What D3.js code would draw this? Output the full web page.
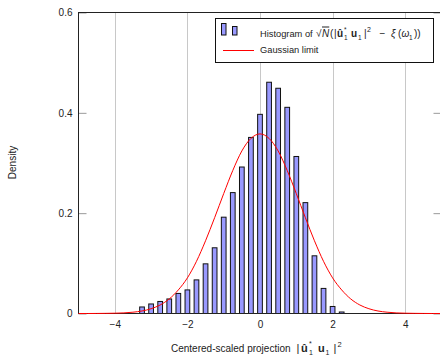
<!DOCTYPE html>
<html>
<head>
<meta charset="utf-8">
<script src="https://cdn.jsdelivr.net/npm/d3@7"></script>
<style>
  html, body { margin: 0; padding: 0; background: #fff; }
  svg { display: block; font-family: "Liberation Sans", Arial, Helvetica, sans-serif; }
</style>
</head>
<body>
<svg id="chart" width="440" height="361"></svg>
<script>
// Histogram bin centres and their densities
const binCenters = [-3.25, -3.0, -2.75, -2.5, -2.25, -2.0, -1.75, -1.5, -1.25, -1.0, -0.75, -0.5,
                    -0.25, 0.0, 0.25, 0.5, 0.75, 1.0, 1.25, 1.5, 1.75, 2.0, 2.25];
const binDensity = [0.013, 0.019, 0.024, 0.029, 0.040, 0.047, 0.067, 0.099, 0.131, 0.192, 0.241, 0.292,
                    0.351, 0.397, 0.461, 0.449, 0.411, 0.313, 0.221, 0.115, 0.050, 0.014, 0.003];

// Limiting Gaussian density, sampled along the x axis
const gaussX = [-5, -4.75, -4.5, -4.25, -4, -3.75, -3.5, -3.25, -3, -2.75, -2.5, -2.25, -2, -1.75, -1.5,
                -1.25, -1, -0.75, -0.5, -0.25, 0, 0.25, 0.5, 0.75, 1, 1.25, 1.5, 1.75, 2, 2.25, 2.5,
                2.75, 3, 3.25, 3.5, 3.75, 4, 4.25, 4.5, 4.75, 5];
const gaussY = [0, 0, 0.0001, 0.0003, 0.0006, 0.0012, 0.0026, 0.005, 0.0095, 0.017, 0.029, 0.047, 0.071,
                0.104, 0.145, 0.191, 0.239, 0.285, 0.324, 0.349, 0.358, 0.349, 0.324, 0.285, 0.239,
                0.191, 0.145, 0.104, 0.071, 0.047, 0.029, 0.017, 0.0095, 0.005, 0.0026, 0.0012, 0.0006,
                0.0003, 0.0001, 0, 0];

const xTicks = [-4, -2, 0, 2, 4];
const yTicks = [0, 0.2, 0.4, 0.6];

const svg = d3.select("#chart");
const plotL = 78.5, plotR = 441.5, plotT = 12.5, plotB = 313.5;

const x = d3.scaleLinear().domain([-5, 5]).range([plotL, plotR]);
const y = d3.scaleLinear().domain([0, 0.6]).range([plotB, plotT]);

// vertical grid
svg.append("g").selectAll("line").data(xTicks).join("line")
  .attr("x1", d => Math.round(x(d)) + 0.5).attr("x2", d => Math.round(x(d)) + 0.5)
  .attr("y1", plotT).attr("y2", plotB)
  .attr("stroke", "#c8c8c8").attr("stroke-width", 1);

// y tick marks (inside, both sides)
const yAxisL = d3.axisLeft(y).tickValues(yTicks).tickSize(-8).tickPadding(6)
  .tickFormat(d => d === 0 ? "0" : d3.format(".1f")(d));
const gy = svg.append("g").attr("transform", `translate(${plotL},0)`).call(yAxisL);
gy.select(".domain").remove();
gy.selectAll("line").attr("stroke", "#9a9a9a");
gy.selectAll("text").attr("font-size", 10).attr("fill", "#222")
  .attr("font-family", '"Liberation Sans", Arial, sans-serif');

const yAxisR = d3.axisRight(y).tickValues(yTicks).tickSize(-8).tickFormat("");
const gyr = svg.append("g").attr("transform", `translate(${plotR},0)`).call(yAxisR);
gyr.select(".domain").remove();
gyr.selectAll("line").attr("stroke", "#9a9a9a");

// x tick labels
const xAxis = d3.axisBottom(x).tickValues(xTicks).tickSize(0).tickPadding(7);
const gx = svg.append("g").attr("transform", `translate(0,${plotB})`).call(xAxis);
gx.select(".domain").remove();
gx.selectAll("text").attr("font-size", 10).attr("fill", "#222")
  .attr("font-family", '"Liberation Sans", Arial, sans-serif');

// histogram bars
const barW = x(0.13) - x(0);
svg.append("g").selectAll("rect").data(binCenters).join("rect")
  .attr("x", (d) => x(d) - barW / 2)
  .attr("y", (d, i) => y(binDensity[i]))
  .attr("width", barW)
  .attr("height", (d, i) => y(0) - y(binDensity[i]))
  .attr("fill", "#9999ff").attr("stroke", "#111").attr("stroke-width", 1);

// frame
svg.append("rect").attr("x", plotL).attr("y", plotT)
  .attr("width", plotR - plotL).attr("height", plotB - plotT)
  .attr("fill", "none").attr("stroke", "#222").attr("stroke-width", 1);

// Gaussian limit curve
const line = d3.line().x(d => x(d[0])).y(d => y(d[1])).curve(d3.curveMonotoneX);
svg.append("path").datum(gaussX.map((v, i) => [v, gaussY[i]]))
  .attr("d", line).attr("fill", "none").attr("stroke", "#ff0000").attr("stroke-width", 1);

// typeset a formula: each glyph group gets an absolute x offset and a baseline shift
function formula(sel, x0, y0, segs, base) {
  segs.forEach(s => {
    const ts = sel.append("tspan").text(s.t)
      .attr("x", x0 + s.x).attr("y", y0 + (s.dy || 0))
      .attr("font-size", s.s || base);
    if (s.i) ts.attr("font-style", "italic");
    if (s.b) ts.attr("font-weight", "bold");
    if (s.o) ts.attr("text-decoration", "overline");
  });
}

// axis titles
const xt = svg.append("text").attr("font-size", 10).attr("fill", "#222");
formula(xt, 171, 352, [
  { t: "Centered-scaled projection", x: 0 },
  { t: "|", x: 125.5, s: 11 },
  { t: "û", x: 130, b: true, s: 11 },
  { t: "1", x: 138, s: 7, dy: 3 },
  { t: "*", x: 138, s: 7, dy: -6 },
  { t: "u", x: 147, b: true, s: 11 },
  { t: "1", x: 154.5, s: 7, dy: 3 },
  { t: "|", x: 162.5, s: 11 },
  { t: "2", x: 166.5, s: 7.5, dy: -5 }
], 10);

svg.append("text").attr("transform", "translate(16,162.5) rotate(-90)")
  .attr("text-anchor", "middle").attr("font-size", 10).attr("fill", "#222").text("Density");

// legend
const lg = svg.append("g");
lg.append("rect").attr("x", 215.5).attr("y", 18.5).attr("width", 218).attr("height", 44)
  .attr("fill", "#fff").attr("stroke", "#111").attr("stroke-width", 1);
lg.append("rect").attr("x", 221.5).attr("y", 23.5).attr("width", 4.5).attr("height", 11.5)
  .attr("fill", "#9999ff").attr("stroke", "#111");
lg.append("rect").attr("x", 232.5).attr("y", 26.5).attr("width", 4.5).attr("height", 8.5)
  .attr("fill", "#9999ff").attr("stroke", "#111");
lg.append("line").attr("x1", 223).attr("x2", 254).attr("y1", 50.5).attr("y2", 50.5)
  .attr("stroke", "#ff0000").attr("stroke-width", 1);

const lt = lg.append("text").attr("font-size", 9.3).attr("fill", "#222");
formula(lt, 260, 36.5, [
  { t: "Histogram of", x: 0 },
  { t: "√", x: 56, s: 10 },
  { t: "N", x: 62, i: true, o: true, s: 10 },
  { t: "(", x: 70, s: 10 },
  { t: "|", x: 74, s: 10 },
  { t: "û", x: 77, b: true, s: 10 },
  { t: "1", x: 84, s: 6.5, dy: 3 },
  { t: "*", x: 84, s: 6.5, dy: -5 },
  { t: "u", x: 91, b: true, s: 10 },
  { t: "1", x: 98, s: 6.5, dy: 3 },
  { t: "|", x: 104, s: 10 },
  { t: "2", x: 107, s: 7, dy: -5 },
  { t: "−", x: 119.5, s: 10 },
  { t: "ξ", x: 131, i: true, s: 10 },
  { t: "(", x: 138, s: 10 },
  { t: "ω", x: 141.5, i: true, s: 10 },
  { t: "1", x: 149, s: 6.5, dy: 3 },
  { t: "))", x: 154, s: 10 }
], 9.3);

lg.append("text").attr("x", 260).attr("y", 53).attr("font-size", 9.3).attr("fill", "#222")
  .text("Gaussian limit");
</script>
</body>
</html>
